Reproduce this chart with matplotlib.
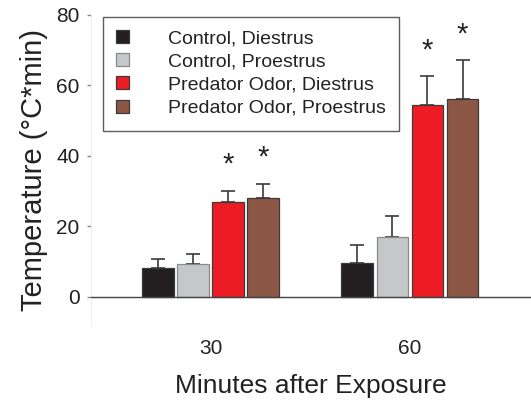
import matplotlib
matplotlib.use("Agg")
import matplotlib.pyplot as plt
import matplotlib.transforms as mtransforms
import numpy as np

plt.rcParams['font.family'] = ['Liberation Sans', 'DejaVu Sans']

groups = ["30", "60"]
series = ["Control, Diestrus", "Control, Proestrus",
          "Predator Odor, Diestrus", "Predator Odor, Proestrus"]
means = {
    "Control, Diestrus": [8.2, 9.6],
    "Control, Proestrus": [9.4, 16.9],
    "Predator Odor, Diestrus": [27.0, 54.5],
    "Predator Odor, Proestrus": [27.9, 56.0],
}
errors = {
    "Control, Diestrus": [2.6, 5.1],
    "Control, Proestrus": [2.8, 6.1],
    "Predator Odor, Diestrus": [3.0, 8.3],
    "Predator Odor, Proestrus": [4.2, 11.1],
}
star_y = {
    "Predator Odor, Diestrus": [38.9, 71.3],
    "Predator Odor, Proestrus": [40.8, 75.8],
}
colors = ["#231f20", "#c6c7c8", "#ed1c24", "#8c5845"]
edges = ["#3a3a3a", "#8a8a8a", "#3a3a3a", "#3a3a3a"]

fig = plt.figure(figsize=(5.31, 4.05), dpi=100)
ax = fig.add_axes([0.171, 0.198, 0.829, 0.765])

x = np.arange(len(groups))
width = 0.16
step = 0.176
offsets = (np.arange(4) - 1.5) * step
star_tr = mtransforms.offset_copy(ax.transData, fig=fig, x=0, y=-5, units='dots')
handles = []
for i, s in enumerate(series):
    xs = x + offsets[i]
    b = ax.bar(xs, means[s], width=width, color=colors[i], edgecolor=edges[i],
               linewidth=0.9, zorder=3, label=s)
    ax.errorbar(xs, means[s], yerr=[np.zeros(2), errors[s]], fmt='none',
                ecolor='#3a3a3a', elinewidth=1.2, capsize=5, capthick=1.2, zorder=2)
    handles.append(b)
    if s in star_y:
        for xx, yy in zip(xs, star_y[s]):
            ax.text(xx, yy, "*", ha='center', va='center', fontsize=21,
                    color='#222222', transform=star_tr)

ax.axhline(0, color='#444444', lw=1.0, zorder=4)
ax.set_xlim(-0.603, 1.608)
ax.set_ylim(-8, 80)
ax.set_yticks([0, 20, 40, 60, 80])
ax.set_xticks(x)
ax.set_xticklabels(groups)
ax.tick_params(axis='x', length=0, pad=10, labelsize=15, labelcolor='#222222')
ax.tick_params(axis='y', length=3, width=1, color='#888888', labelsize=15, labelcolor='#222222', pad=5)
for sp in ['top', 'right', 'bottom']:
    ax.spines[sp].set_visible(False)
ax.spines['left'].set_color('#eeeeee')
ax.set_ylabel("Temperature (\u00b0C*min)", fontsize=21, color='#222222', labelpad=6)
ax.set_xlabel("Minutes after Exposure", fontsize=19, color='#222222', labelpad=12)

leg = ax.legend(handles=handles, labels=series, loc='upper left',
                bbox_to_anchor=(0.027, 0.995), fontsize=14, frameon=True,
                fancybox=False, edgecolor='#333333', handlelength=0.65,
                handleheight=0.65, handletextpad=2.0, labelspacing=0.3,
                borderpad=0.7, borderaxespad=0.0)
leg._legend_box.sep = 0
leg.get_frame().set_linewidth(1.0)
for t in leg.get_texts():
    t.set_color('#222222')

fig.savefig("out.png", dpi=100)
